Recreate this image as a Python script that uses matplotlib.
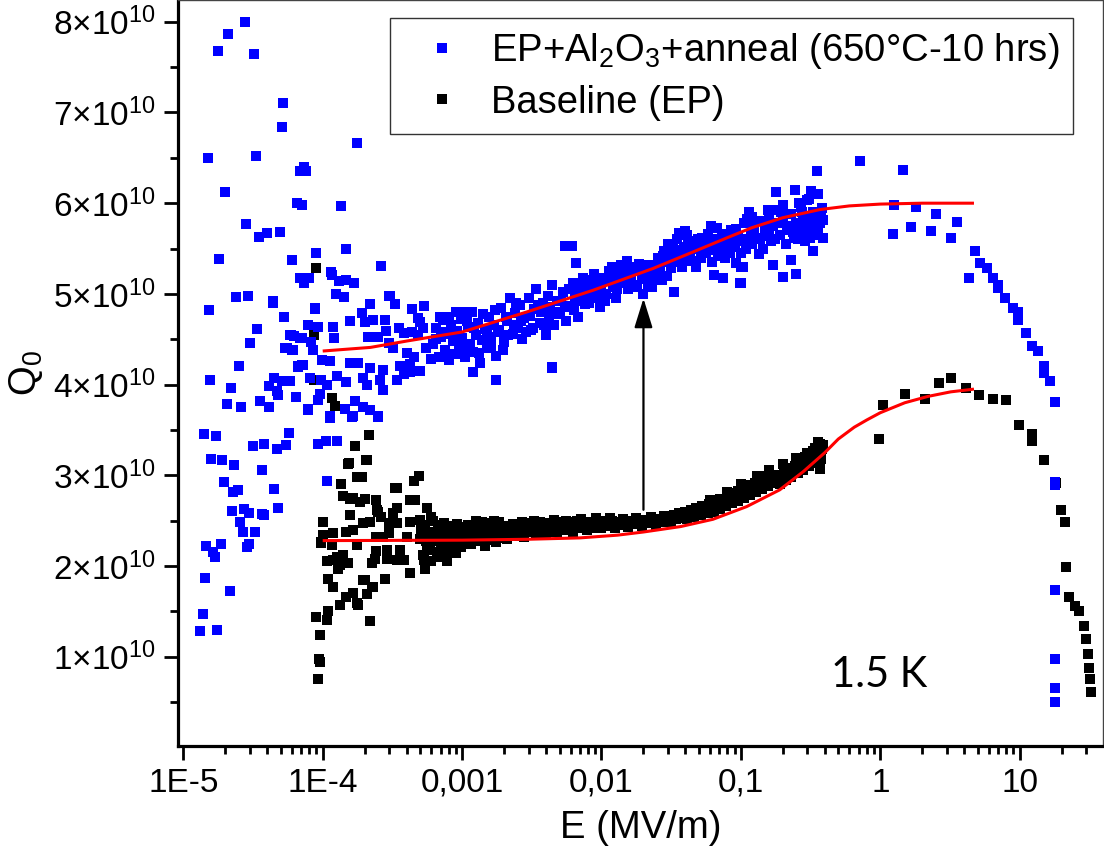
import matplotlib
matplotlib.use('Agg')
import matplotlib.pyplot as plt
from matplotlib.ticker import FixedLocator, FixedFormatter, LogLocator, NullFormatter

plt.rcParams['font.family'] = ['Liberation Sans', 'DejaVu Sans']
plt.rcParams['mathtext.fontset'] = 'custom'
plt.rcParams['mathtext.rm'] = 'Liberation Sans'
plt.rcParams['mathtext.it'] = 'Liberation Sans:italic'
plt.rcParams['mathtext.bf'] = 'Liberation Sans:bold'
plt.rcParams['mathtext.sf'] = 'Liberation Sans'

Q_UNIT = 1e10  # Q values below are in units of 1e10

# ---------------- blue series: EP+Al2O3+anneal ----------------
BLUE_LOW = [
    (1.77e-5, 7.68), (2.08e-5, 7.87), (2.77e-5, 8.00), (3.22e-5, 7.65), (5.16e-5, 7.10), (5.07e-5, 6.84),
    (1.50e-5, 6.50), (3.30e-5, 6.52), (1.75e-4, 6.66), (2.0e-5, 6.12), (7.4e-5, 6.40), (6.9e-5, 6.35),
    (7.6e-5, 6.35), (6.5e-5, 6.00), (7.1e-5, 5.98), (1.35e-4, 5.97), (2.8e-5, 5.77), (3.5e-5, 5.63),
    (4.0e-5, 5.67), (4.9e-5, 5.68), (1.79e-5, 5.39), (6.0e-5, 5.37), (8.9e-5, 5.45), (1.46e-4, 5.50),
    (2.6e-4, 5.31), (6.9e-5, 5.17), (7.4e-5, 5.12), (8.0e-5, 5.18), (1.15e-4, 5.24), (1.17e-4, 5.21),
    (1.30e-4, 5.14), (1.46e-4, 5.15), (1.67e-4, 5.12), (2.4e-5, 4.97), (2.9e-5, 4.98), (4.4e-5, 4.92),
    (1.24e-4, 5.00), (1.43e-4, 4.97), (3.05e-4, 4.98), (1.52e-5, 4.82), (4.4e-5, 4.90), (8.8e-5, 4.84),
    (5.3e-5, 4.75), (3.4e-5, 4.61), (3.0e-5, 4.46), (5.9e-5, 4.55), (6.9e-5, 4.51), (5.4e-5, 4.40),
    (6.1e-5, 4.38), (7.8e-5, 4.66), (9.2e-5, 4.63), (1.18e-4, 4.63), (1.20e-4, 4.51), (1.57e-4, 4.70),
    (2.5e-5, 4.20), (1.55e-5, 4.05), (2.2e-5, 3.96), (2.05e-5, 3.79), (2.6e-5, 3.75), (4.1e-5, 3.75),
    (3.55e-5, 3.82), (4.75e-5, 3.88), (6.4e-5, 3.86), (4.1e-5, 3.98), (4.7e-5, 3.93), (4.5e-5, 4.07),
    (5.1e-5, 4.04), (5.8e-5, 4.04), (7.1e-5, 4.22), (6.7e-5, 4.19), (1.41e-5, 3.45), (1.71e-5, 3.43),
    (1.57e-5, 3.18), (1.89e-5, 3.17), (2.3e-5, 3.11), (3.67e-5, 3.06), (3.15e-5, 3.32), (3.8e-5, 3.35),
    (4.7e-5, 3.29), (5.45e-5, 3.33), (5.7e-5, 3.47), (9.2e-5, 3.34), (1.06e-4, 3.38), (1.27e-4, 3.38),
    (1.96e-5, 2.93), (2.27e-5, 2.82), (2.45e-5, 2.84), (4.45e-5, 2.85), (1.07e-4, 2.94), (2.22e-5, 2.61),
    (2.73e-5, 2.63), (2.97e-5, 2.58), (3.65e-5, 2.57), (3.77e-5, 2.56), (4.8e-5, 2.64), (2.55e-5, 2.49),
    (2.7e-5, 2.37), (3.27e-5, 2.37), (1.45e-5, 2.22), (1.86e-5, 2.24), (1.63e-5, 2.15), (1.69e-5, 2.10),
    (2.85e-5, 2.21), (2.94e-5, 2.24), (1.42e-5, 1.87), (2.15e-5, 1.72), (1.38e-5, 1.47), (1.31e-5, 1.28),
    (1.74e-5, 1.29),
]
BLUE_START = [
    (3.0e-4, 4.98), (3.3e-4, 4.89), (2.18e-4, 4.89), (4.4e-4, 4.83), (5.3e-4, 4.87), (6.9e-4, 4.74),
    (9.0e-4, 4.80), (1.0e-3, 4.80), (8.8e-5, 4.83), (1.9e-4, 4.79), (2.0e-4, 4.69), (2.3e-4, 4.71),
    (2.8e-4, 4.71), (5.8e-5, 4.55), (7.1e-5, 4.51), (6.2e-5, 4.54), (8.3e-5, 4.47), (8.5e-5, 4.38),
    (5.5e-5, 4.40), (6.0e-5, 4.38), (2.1e-4, 4.52), (2.5e-4, 4.53), (2.85e-4, 4.59), (3.0e-4, 4.46),
    (3.8e-4, 4.57), (4.4e-4, 4.58), (5.0e-4, 4.69), (4.8e-4, 4.73), (8.0e-4, 4.75), (9.6e-4, 4.80),
    (9.9e-5, 4.27), (1.13e-4, 4.26), (1.57e-4, 4.24), (1.8e-4, 4.24), (2.18e-4, 4.18), (2.7e-4, 4.16),
    (3.6e-4, 4.21), (4.2e-4, 4.23), (5.0e-4, 4.15), (6.7e-5, 4.20), (7.2e-5, 4.22), (8.1e-5, 4.07),
    (9.8e-5, 4.05), (1.07e-4, 4.00), (1.26e-4, 4.09), (1.47e-4, 4.03), (1.94e-4, 4.07), (2.07e-4, 4.00),
    (2.58e-4, 4.05), (3.4e-4, 4.05), (3.8e-4, 4.12), (4.2e-4, 4.14), (9.2e-5, 3.83), (9.6e-5, 3.90),
    (1.71e-4, 3.82), (1.94e-4, 3.75), (2.7e-4, 3.94), (1.44e-4, 3.73), (1.64e-4, 3.65), (2.5e-4, 3.65),
    (1.13e-4, 3.65), (7.8e-5, 3.73), (2.18e-4, 3.72), (2.5e-4, 3.64), (1.63e-4, 3.64), (1.13e-4, 3.63),
    (7.9e-5, 3.72), (1.2e-3, 4.14), (1.75e-3, 4.05), (4.4e-3, 4.19), (5.5e-4, 4.40), (6.0e-4, 4.28),
    (4.8e-4, 4.55), (4.0e-4, 4.35), (3.5e-4, 4.62), (5.2e-4, 4.62), (4.5e-4, 4.30), (3.2e-4, 4.40),
    (6.5e-4, 4.50), (7.5e-4, 4.58),
]
BLUE_BAND = [
    (6.2e-4, 4.45), (6.5e-4, 4.62), (6.8e-4, 4.30), (7.0e-4, 4.52), (7.3e-4, 4.71), (7.5e-4, 4.38),
    (7.8e-4, 4.56), (8.0e-4, 4.27), (8.3e-4, 4.66), (8.6e-4, 4.48), (8.9e-4, 4.34), (9.2e-4, 4.59),
    (9.5e-4, 4.41), (9.8e-4, 4.72), (1.0e-3, 4.51), (1.05e-3, 4.30), (1.1e-3, 4.63), (1.13e-3, 4.45),
    (1.17e-3, 4.80), (1.2e-3, 4.36), (1.25e-3, 4.55), (1.3e-3, 4.68), (1.35e-3, 4.24), (1.4e-3, 4.49),
    (1.45e-3, 4.61), (1.5e-3, 4.40), (1.55e-3, 4.75), (1.6e-3, 4.53), (1.7e-3, 4.66), (1.75e-3, 4.32),
    (1.8e-3, 4.58), (1.9e-3, 4.84), (2.0e-3, 4.47), (2.1e-3, 4.70), (2.2e-3, 4.95), (2.3e-3, 4.56),
    (2.4e-3, 4.79), (2.5e-3, 4.62), (2.6e-3, 4.88), (2.7e-3, 4.50), (2.8e-3, 4.73), (3.0e-3, 4.96),
    (3.1e-3, 4.60), (3.3e-3, 4.83), (3.4e-3, 5.05), (3.6e-3, 4.68), (3.8e-3, 4.90), (4.0e-3, 4.55),
    (4.2e-3, 4.77), (4.4e-3, 5.10), (4.6e-3, 4.66), (4.8e-3, 4.92), (5.0e-3, 4.80), (5.3e-3, 5.02),
    (5.6e-3, 4.70), (5.9e-3, 4.87), (6.2e-3, 5.12), (6.5e-3, 4.95), (6.8e-3, 4.74), (7.2e-3, 5.06),
    (7.6e-3, 4.89), (8.0e-3, 5.15), (8.4e-3, 4.98), (8.8e-3, 5.22), (9.3e-3, 5.03), (9.8e-3, 4.86),
    (1.03e-2, 5.18), (1.08e-2, 5.00), (1.14e-2, 5.25), (1.2e-2, 5.08), (1.27e-2, 4.96), (1.33e-2, 5.21),
    (1.4e-2, 5.12), (1.48e-2, 5.28), (1.55e-2, 5.05), (1.63e-2, 5.20), (1.72e-2, 5.30), (1.8e-2, 5.10),
    (1.9e-2, 5.25), (2.0e-2, 5.00), (2.1e-2, 5.18), (2.2e-2, 5.32), (2.3e-2, 5.08), (2.45e-2, 5.27),
    (2.55e-2, 5.40), (2.7e-2, 5.15), (2.85e-2, 5.35), (3.0e-2, 5.55), (3.15e-2, 5.28), (3.3e-2, 5.45),
    (3.5e-2, 5.60), (3.7e-2, 5.38), (3.9e-2, 5.52), (4.1e-2, 5.65), (4.3e-2, 5.42), (4.5e-2, 5.58),
    (4.8e-2, 5.30), (5.0e-2, 5.50), (5.3e-2, 5.62), (5.6e-2, 5.45), (5.9e-2, 5.55), (6.2e-2, 5.35),
    (6.6e-2, 5.60), (7.0e-2, 5.48), (7.3e-2, 5.66), (7.7e-2, 5.40), (8.1e-2, 5.58), (8.5e-2, 5.70),
    (9.0e-2, 5.52), (9.5e-2, 5.64), (0.10, 5.45), (0.105, 5.78), (0.11, 5.60), (0.115, 5.90),
    (0.12, 5.55), (0.125, 5.72), (0.13, 5.62), (0.14, 5.80), (0.145, 5.50), (0.15, 5.68),
    (0.16, 5.85), (0.165, 5.58), (0.17, 5.75), (0.18, 5.92), (0.19, 5.65), (0.20, 5.82),
    (0.21, 5.55), (0.22, 5.70), (0.23, 5.88), (0.24, 5.62), (0.25, 5.78), (0.26, 6.00),
    (0.27, 5.68), (0.28, 5.85), (0.29, 5.58), (0.30, 5.80), (0.31, 6.05), (0.32, 5.72),
    (0.33, 5.90), (0.34, 5.65), (0.35, 5.85), (0.36, 6.10), (0.37, 5.78), (0.38, 5.95), (0.39, 5.82),
]
BLUE_BAND_2 = [
    (1.02e-3, 4.40), (1.08e-3, 4.70), (1.22e-3, 4.62), (1.32e-3, 4.35), (1.42e-3, 4.78), (1.52e-3, 4.55),
    (1.62e-3, 4.42), (1.72e-3, 4.82), (1.85e-3, 4.60), (1.95e-3, 4.38), (2.05e-3, 4.75), (2.15e-3, 4.55),
    (2.35e-3, 4.66), (2.45e-3, 4.90), (2.65e-3, 4.70), (2.85e-3, 4.58), (3.05e-3, 4.76), (3.25e-3, 4.62),
    (3.5e-3, 4.88), (3.7e-3, 4.80), (3.9e-3, 4.66), (4.1e-3, 4.98), (4.3e-3, 4.85), (4.7e-3, 4.78),
    (5.1e-3, 4.92), (5.5e-3, 4.86), (5.8e-3, 5.05), (6.3e-3, 4.82), (6.7e-3, 5.02), (7.0e-3, 4.92),
    (7.4e-3, 5.18), (7.8e-3, 5.00), (8.2e-3, 4.90), (8.6e-3, 5.10), (9.0e-3, 4.95), (9.5e-3, 5.12),
    (1.0e-2, 5.06), (1.06e-2, 4.92), (1.12e-2, 5.15), (1.18e-2, 5.30), (1.25e-2, 5.14), (1.3e-2, 5.05),
    (1.37e-2, 5.32), (1.45e-2, 5.18), (1.52e-2, 5.36), (1.6e-2, 5.14), (1.68e-2, 5.25), (1.76e-2, 5.08),
    (1.85e-2, 5.33), (1.95e-2, 5.16), (2.05e-2, 5.28), (2.15e-2, 5.10), (2.25e-2, 5.22), (2.4e-2, 5.16),
    (2.5e-2, 5.30), (2.65e-2, 5.24), (2.75e-2, 5.42), (2.95e-2, 5.20), (3.1e-2, 5.40), (3.25e-2, 5.52),
    (3.4e-2, 5.35), (3.6e-2, 5.48), (3.8e-2, 5.30), (4.0e-2, 5.45), (4.2e-2, 5.55), (4.4e-2, 5.36),
    (4.7e-2, 5.50), (4.9e-2, 5.60), (5.2e-2, 5.40), (5.5e-2, 5.56), (5.8e-2, 5.66), (6.1e-2, 5.48),
    (6.4e-2, 5.52), (6.8e-2, 5.42), (7.2e-2, 5.55), (7.6e-2, 5.62), (8.0e-2, 5.50), (8.3e-2, 5.45),
    (8.8e-2, 5.60), (9.3e-2, 5.72), (9.8e-2, 5.58), (0.108, 5.50), (0.118, 5.66), (0.128, 5.80),
    (0.138, 5.60), (0.148, 5.74), (0.158, 5.64), (0.175, 5.60), (0.185, 5.78), (0.195, 5.90),
    (0.215, 5.75), (0.235, 5.68), (0.255, 5.60), (0.275, 5.90), (0.295, 5.75), (0.315, 5.62),
    (0.335, 5.80), (0.355, 5.70), (0.375, 5.88), (0.385, 5.62),
]
BLUE_OUTLIERS = [
    (5.5e-3, 5.53), (6.1e-3, 5.53), (6.6e-3, 5.34), (4.4e-3, 4.18), (0.061, 5.75), (0.067, 5.73),
    (0.098, 5.12), (0.064, 5.21), (0.075, 5.17), (0.11, 5.83), (0.12, 5.85), (0.135, 5.44),
    (0.093, 5.34), (0.104, 5.30), (0.036, 5.67), (0.040, 5.69), (0.033, 5.02), (0.028, 5.47),
    (0.35, 6.35), (0.245, 6.15), (0.178, 6.12), (0.32, 6.13), (0.30, 6.04), (0.20, 5.98),
    (0.157, 5.93), (0.27, 5.96), (0.33, 5.47), (0.227, 5.37), (0.17, 5.32), (0.20, 5.19),
    (0.25, 5.22), (0.10, 5.12), (0.10, 5.30),
]
BLUE_HIGH = [
    (0.72, 6.46), (1.45, 6.37), (1.25, 5.98), (1.79, 5.96), (2.49, 5.88), (3.53, 5.79), (1.23, 5.66),
    (1.65, 5.74), (2.30, 5.69), (3.20, 5.62), (4.75, 5.47), (4.36, 5.18), (5.2, 5.34), (5.8, 5.29),
    (6.4, 5.18), (7.0, 5.10), (7.0, 5.07), (7.9, 4.96), (8.9, 4.84), (9.8, 4.80), (9.8, 4.71),
    (11.1, 4.57), (12.3, 4.42), (13.5, 4.37), (14.9, 4.20), (14.9, 4.13), (16.4, 4.04), (17.8, 3.81),
    (17.8, 2.93), (17.8, 2.89), (17.8, 1.74), (17.8, 0.98), (17.8, 0.65), (17.8, 0.50),
]

# ---------------- black series: Baseline (EP) ----------------
BLACK_LOW = [
    (8.9e-5, 5.29), (8.6e-5, 4.55), (8.6e-5, 4.05), (9.2e-5, 0.754), (9.5e-5, 0.94), (9.6e-5, 1.24),
    (9.0e-5, 1.44), (1.07e-4, 1.40), (1.10e-4, 1.50), (2.2e-4, 1.39), (1.33e-4, 1.57), (1.48e-4, 1.66),
    (1.75e-4, 1.59), (1.66e-4, 1.70), (1.8e-4, 1.57), (1.10e-4, 1.86), (1.19e-4, 1.77), (1.95e-4, 1.85),
    (2.27e-4, 1.77), (2.07e-4, 1.69), (2.8e-4, 1.86), (9.8e-5, 2.25), (1.16e-4, 2.23), (1.01e-4, 2.34),
    (1.19e-4, 2.07), (1.33e-4, 2.01), (1.48e-4, 2.03), (1.26e-4, 2.10), (1.40e-4, 2.12), (2.24e-4, 2.03),
    (2.37e-4, 2.08), (1.0e-4, 2.48), (1.19e-4, 2.36), (1.48e-4, 2.38), (1.66e-4, 2.40), (1.95e-4, 2.47),
    (2.17e-4, 2.49), (1.35e-4, 2.90), (1.57e-4, 2.56), (1.75e-4, 2.98), (1.87e-4, 2.98), (2.07e-4, 3.17),
    (2.4e-4, 2.73), (2.47e-4, 2.62), (1.53e-4, 3.13), (1.85e-4, 2.71), (1.66e-4, 2.75), (3.3e-4, 2.86),
    (2.6e-4, 2.54), (2.7e-4, 2.32), (2.87e-4, 2.18), (3.4e-4, 2.47), (3.4e-4, 2.07), (2.14e-4, 3.44),
    (1.70e-4, 3.32), (1.54e-4, 3.14), (2.06e-4, 3.17), (1.16e-4, 3.85), (1.22e-4, 3.76), (1.8e-4, 2.98),
    (1.9e-4, 2.98), (4.9e-4, 2.99), (4.5e-4, 2.94), (3.4e-4, 2.86), (1.4e-4, 2.77), (1.57e-4, 2.74),
    (2.0e-4, 2.74), (2.4e-4, 2.73), (4.2e-4, 2.73), (4.6e-4, 2.73), (5.6e-4, 2.64), (2.5e-4, 2.60),
    (3.2e-4, 2.58), (3.4e-4, 2.64), (6.0e-4, 2.54), (3.0e-4, 2.47), (4.2e-4, 2.49), (5.0e-4, 2.51),
    (9.8e-5, 2.26), (1.75e-4, 2.23), (2.4e-4, 2.32), (3.0e-4, 2.36), (4.0e-4, 2.32), (5.8e-4, 2.36),
    (1.07e-4, 2.05), (1.53e-4, 2.03), (2.87e-4, 2.08), (3.8e-4, 2.07), (5.3e-4, 2.07), (7.8e-4, 2.05),
    (2.4e-4, 2.16), (3.6e-4, 2.18), (6.6e-4, 2.10), (8.7e-4, 2.16), (1.29e-4, 1.97), (4.2e-4, 1.92),
    (5.4e-4, 1.97), (2.0e-4, 1.85), (2.3e-4, 1.77), (9.4e-5, 0.98),
]
BLACK_BAND = [
    (5.0e-4, 2.30), (5.2e-4, 2.12), (5.4e-4, 2.45), (5.6e-4, 2.22), (5.8e-4, 2.38), (6.0e-4, 2.05),
    (6.2e-4, 2.50), (6.4e-4, 2.28), (6.6e-4, 2.15), (6.8e-4, 2.42), (7.0e-4, 2.33), (7.2e-4, 2.20),
    (7.4e-4, 2.47), (7.6e-4, 2.10), (7.8e-4, 2.36), (8.0e-4, 2.27), (8.2e-4, 2.44), (8.4e-4, 2.18),
    (8.6e-4, 2.39), (8.8e-4, 2.30), (9.0e-4, 2.14), (9.2e-4, 2.46), (9.4e-4, 2.25), (9.6e-4, 2.37),
    (9.8e-4, 2.21), (1.0e-3, 2.41), (1.05e-3, 2.30), (1.1e-3, 2.45), (1.15e-3, 2.24), (1.2e-3, 2.38),
    (1.25e-3, 2.50), (1.3e-3, 2.28), (1.35e-3, 2.42), (1.4e-3, 2.33), (1.45e-3, 2.22), (1.5e-3, 2.47),
    (1.55e-3, 2.36), (1.6e-3, 2.29), (1.65e-3, 2.43), (1.7e-3, 2.34), (1.75e-3, 2.26), (1.8e-3, 2.40),
    (1.85e-3, 2.48), (1.9e-3, 2.31), (1.95e-3, 2.37), (2.0e-3, 2.44), (2.1e-3, 2.30), (2.2e-3, 2.39),
    (2.3e-3, 2.46), (2.4e-3, 2.33), (2.5e-3, 2.41), (2.6e-3, 2.36), (2.7e-3, 2.48), (2.8e-3, 2.32),
    (2.9e-3, 2.43), (3.0e-3, 2.38), (3.2e-3, 2.45), (3.4e-3, 2.35), (3.6e-3, 2.49), (3.8e-3, 2.40),
    (4.0e-3, 2.36), (4.2e-3, 2.46), (4.4e-3, 2.42), (4.6e-3, 2.51), (4.8e-3, 2.38), (5.0e-3, 2.45),
    (5.3e-3, 2.40), (5.6e-3, 2.50), (5.9e-3, 2.43), (6.2e-3, 2.37), (6.5e-3, 2.47), (6.8e-3, 2.42),
    (7.1e-3, 2.52), (7.5e-3, 2.45), (7.9e-3, 2.40), (8.3e-3, 2.49), (8.7e-3, 2.44), (9.1e-3, 2.53),
    (9.5e-3, 2.46), (1.0e-2, 2.42), (1.05e-2, 2.50), (1.1e-2, 2.44), (1.15e-2, 2.53), (1.2e-2, 2.47),
    (1.25e-2, 2.42), (1.3e-2, 2.49), (1.36e-2, 2.45), (1.42e-2, 2.52), (1.48e-2, 2.47), (1.55e-2, 2.43),
    (1.62e-2, 2.50), (1.7e-2, 2.46), (1.78e-2, 2.53), (1.86e-2, 2.48), (1.95e-2, 2.44), (2.05e-2, 2.51),
    (2.15e-2, 2.47), (2.25e-2, 2.54), (2.35e-2, 2.49), (2.45e-2, 2.45), (2.55e-2, 2.52), (2.7e-2, 2.49),
    (2.8e-2, 2.55), (2.9e-2, 2.50), (3.0e-2, 2.53), (3.15e-2, 2.49), (3.3e-2, 2.56), (3.45e-2, 2.52),
    (3.6e-2, 2.58), (3.8e-2, 2.53), (4.0e-2, 2.60), (4.2e-2, 2.55), (4.4e-2, 2.62), (4.6e-2, 2.57),
    (4.8e-2, 2.64), (5.0e-2, 2.59), (5.3e-2, 2.66), (5.6e-2, 2.61), (5.9e-2, 2.68), (6.2e-2, 2.63),
    (6.5e-2, 2.71), (6.8e-2, 2.66), (7.1e-2, 2.74), (7.5e-2, 2.69), (7.9e-2, 2.77), (8.3e-2, 2.72),
    (8.7e-2, 2.80), (9.1e-2, 2.75), (9.5e-2, 2.83), (0.100, 2.78), (0.105, 2.86), (0.110, 2.81),
    (0.115, 2.89), (0.120, 2.84), (0.127, 2.92), (0.133, 2.87), (0.140, 2.96), (0.147, 2.90),
    (0.155, 2.99), (0.163, 2.94), (0.170, 3.00), (0.180, 2.93), (0.190, 3.00), (0.200, 2.96),
    (0.210, 3.04), (0.220, 3.00), (0.230, 3.08), (0.240, 3.04), (0.250, 3.12), (0.260, 3.08),
    (0.270, 3.16), (0.280, 3.12), (0.290, 3.20), (0.300, 3.15), (0.310, 3.23), (0.320, 3.18),
    (0.330, 3.27), (0.340, 3.22), (0.350, 3.30), (0.360, 3.26), (0.370, 3.34), (0.380, 3.29),
    (0.360, 3.37), (0.370, 3.07),
]
BLACK_BAND_2 = [
    (5.1e-4, 2.40), (5.5e-4, 2.28), (5.9e-4, 2.18), (6.3e-4, 2.35), (6.7e-4, 2.45), (7.1e-4, 2.25),
    (7.5e-4, 2.38), (7.9e-4, 2.44), (8.3e-4, 2.31), (8.7e-4, 2.24), (9.1e-4, 2.36), (9.5e-4, 2.43),
    (9.9e-4, 2.30), (1.07e-3, 2.37), (1.12e-3, 2.27), (1.18e-3, 2.44), (1.28e-3, 2.35), (1.38e-3, 2.48),
    (1.48e-3, 2.30), (1.58e-3, 2.40), (1.68e-3, 2.50), (1.78e-3, 2.35), (1.88e-3, 2.42), (2.05e-3, 2.36),
    (2.25e-3, 2.43), (2.45e-3, 2.38), (2.65e-3, 2.42), (2.85e-3, 2.47), (3.1e-3, 2.40), (3.3e-3, 2.50),
    (3.5e-3, 2.42), (3.7e-3, 2.37), (3.9e-3, 2.47), (4.1e-3, 2.43), (4.3e-3, 2.38), (4.5e-3, 2.47),
    (4.7e-3, 2.44), (4.9e-3, 2.49), (5.15e-3, 2.43), (5.45e-3, 2.46), (5.75e-3, 2.41), (6.05e-3, 2.48),
    (6.35e-3, 2.44), (6.65e-3, 2.50), (6.95e-3, 2.45), (7.3e-3, 2.42), (7.7e-3, 2.48), (8.1e-3, 2.46),
    (8.5e-3, 2.42), (8.9e-3, 2.47), (9.3e-3, 2.49), (9.7e-3, 2.44), (1.02e-2, 2.48), (1.08e-2, 2.46),
    (1.18e-2, 2.50), (1.28e-2, 2.46), (1.39e-2, 2.49), (1.51e-2, 2.50), (1.66e-2, 2.48), (1.82e-2, 2.50),
    (2.0e-2, 2.48), (2.2e-2, 2.50), (2.4e-2, 2.51), (2.62e-2, 2.50), (2.85e-2, 2.52), (3.08e-2, 2.55),
    (3.38e-2, 2.54), (3.7e-2, 2.56), (3.9e-2, 2.58), (4.3e-2, 2.59), (4.7e-2, 2.61), (5.15e-2, 2.62),
    (5.75e-2, 2.64), (6.35e-2, 2.67), (6.95e-2, 2.70), (7.7e-2, 2.73), (8.5e-2, 2.76), (9.3e-2, 2.79),
    (0.102, 2.82), (0.112, 2.85), (0.124, 2.88), (0.137, 2.92), (0.151, 2.95), (0.167, 2.98),
    (0.185, 2.99), (0.205, 3.03), (0.225, 3.06), (0.245, 3.10), (0.265, 3.13), (0.285, 3.17),
    (0.305, 3.20), (0.325, 3.24), (0.345, 3.27), (0.365, 3.30), (0.385, 3.33),
]
BLACK_BAND_3 = [
    (0.041, 2.52), (0.046, 2.54), (0.052, 2.56), (0.058, 2.58), (0.064, 2.60), (0.071, 2.63),
    (0.078, 2.66), (0.086, 2.69), (0.095, 2.72), (0.105, 2.75), (0.116, 2.78), (0.128, 2.82),
    (0.141, 2.85), (0.156, 2.88), (0.172, 2.91), (0.190, 2.90), (0.210, 2.95), (0.230, 2.98),
    (0.255, 3.02), (0.280, 3.06), (0.310, 3.10), (0.340, 3.14), (0.375, 3.18),
    (0.060, 2.73), (0.080, 2.82), (0.100, 2.90), (0.130, 2.99), (0.160, 3.06), (0.200, 3.12),
    (0.250, 3.19), (0.300, 3.25), (0.340, 3.30), (0.380, 3.33),
]
BLACK_HIGH = [
    (0.974, 3.40), (1.04, 3.77), (1.50, 3.90), (2.08, 3.84), (2.63, 4.02), (3.20, 4.07), (4.10, 3.96),
    (5.08, 3.88), (6.40, 3.84), (7.94, 3.83), (9.85, 3.56), (12.2, 3.46), (12.2, 3.38), (14.9, 3.17),
    (18.1, 2.91), (19.7, 2.62), (21.0, 2.48), (21.4, 1.99), (22.5, 1.66), (24.8, 1.56), (26.5, 1.50),
    (28.8, 1.34), (29.8, 1.20), (30.8, 1.03), (31.3, 0.88), (31.8, 0.75), (32.3, 0.61),
]

# ---------------- fit curves (red) ----------------
FIT_BLUE_E = [1e-4, 2.2e-4, 4e-4, 1e-3, 2.9e-3, 8.7e-3, 0.0234, 0.045, 0.08, 0.12, 0.2, 0.37, 0.6, 1.0, 2.0, 4.7]
FIT_BLUE_Q = [4.37, 4.41, 4.48, 4.58, 4.80, 5.04, 5.28, 5.46, 5.62, 5.73, 5.84, 5.93, 5.97, 5.99, 6.00, 6.00]
FIT_BLACK_E = [1e-4, 1e-3, 3e-3, 7e-3, 0.013, 0.02, 0.037, 0.063, 0.11, 0.19, 0.28, 0.40, 0.5, 0.65, 0.8,
               1.0, 1.5, 2.2, 3.2, 4.7]
FIT_BLACK_Q = [2.28, 2.285, 2.295, 2.31, 2.34, 2.375, 2.435, 2.515, 2.655, 2.84, 3.04, 3.25, 3.40, 3.53, 3.61,
               3.69, 3.80, 3.87, 3.92, 3.95]

# arrow (E, Q from -> to)
ARROW_E = 0.02
ARROW_Q_FROM = 2.62
ARROW_Q_TO = 4.95

X_TICKS = [1e-5, 1e-4, 1e-3, 1e-2, 1e-1, 1, 10]
X_TICK_LABELS = ['1E-5', '1E-4', '0,001', '0,01', '0,1', '1', '10']
Y_TICKS = [1, 2, 3, 4, 5, 6, 7, 8]
Y_TICK_LABELS = ['1×10$^{10}$', '2×10$^{10}$', '3×10$^{10}$', '4×10$^{10}$',
                 '5×10$^{10}$', '6×10$^{10}$', '7×10$^{10}$', '8×10$^{10}$']

LEGEND_LABELS = ['EP+Al$_2$O$_3$+anneal (650°C-10 hrs)', 'Baseline (EP)']

BLUE = '#0000FF'
BLACK = '#000000'
RED = '#FF0000'

W, H = 1104, 864
fig = plt.figure(figsize=(W / 100, H / 100), dpi=100)
ax = fig.add_axes([178 / W, 1 - 745.7 / H, 925 / W, 745.7 / H])
ax.set_xscale('log')


def split(pairs):
    return [p[0] for p in pairs], [p[1] * Q_UNIT for p in pairs]


MS = 6.8
black_groups = [BLACK_LOW, BLACK_BAND, BLACK_BAND_2, BLACK_BAND_3, BLACK_HIGH]
blue_groups = [BLUE_LOW, BLUE_START, BLUE_BAND, BLUE_BAND_2, BLUE_OUTLIERS, BLUE_HIGH]
h_black = None
for g in black_groups:
    e, q = split(g)
    h_black, = ax.plot(e, q, ls='none', marker='s', ms=MS, mfc=BLACK, mec=BLACK, mew=0, zorder=2)
h_blue = None
for g in blue_groups:
    e, q = split(g)
    h_blue, = ax.plot(e, q, ls='none', marker='s', ms=MS, mfc=BLUE, mec=BLUE, mew=0, zorder=3)

ax.plot(FIT_BLUE_E, [v * Q_UNIT for v in FIT_BLUE_Q], color=RED, lw=2.2, zorder=4, solid_capstyle='butt')
ax.plot(FIT_BLACK_E, [v * Q_UNIT for v in FIT_BLACK_Q], color=RED, lw=2.2, zorder=4, solid_capstyle='butt')

ax.annotate('', xy=(ARROW_E, ARROW_Q_TO * Q_UNIT), xytext=(ARROW_E, ARROW_Q_FROM * Q_UNIT),
            arrowprops=dict(arrowstyle='-|>,head_length=0.9,head_width=0.28', color='black',
                            lw=1.6, shrinkA=0, shrinkB=0, mutation_scale=20), zorder=5)

ax.set_xlim(9.16e-6, 39.6)
ax.set_ylim(0.019 * Q_UNIT, 8.24 * Q_UNIT)

ax.xaxis.set_major_locator(FixedLocator(X_TICKS))
ax.xaxis.set_major_formatter(FixedFormatter(X_TICK_LABELS))
ax.xaxis.set_minor_locator(LogLocator(base=10, subs=(2, 3, 4, 5, 6, 7, 8, 9), numticks=20))
ax.xaxis.set_minor_formatter(NullFormatter())
ax.yaxis.set_major_locator(FixedLocator([v * Q_UNIT for v in Y_TICKS]))
ax.yaxis.set_major_formatter(FixedFormatter(Y_TICK_LABELS))
ax.yaxis.set_minor_locator(FixedLocator([(v - 0.5) * Q_UNIT for v in Y_TICKS]))

ax.tick_params(which='major', direction='out', length=10, width=2.0, labelsize=24, pad=6,
               top=False, right=False)
ax.tick_params(which='minor', direction='out', length=5.5, width=2.0, top=False, right=False)

for side in ['left', 'bottom']:
    ax.spines[side].set_linewidth(2.3)
for side in ['top', 'right']:
    ax.spines[side].set_linewidth(1.0)
    ax.spines[side].set_color('#444444')

ax.set_xlabel('E (MV/m)', fontsize=27.5, labelpad=8)
ax.set_ylabel('Q$_0$', fontsize=27.5, labelpad=6)

leg = ax.legend([h_blue, h_black], LEGEND_LABELS, loc='upper left',
                bbox_to_anchor=(390 / W, 1 - 18 / H), bbox_transform=fig.transFigure,
                fontsize=27.5, frameon=True, fancybox=False, borderaxespad=0,
                borderpad=0.35, labelspacing=0.35, handlelength=2.0, handletextpad=0.3,
                numpoints=1)
leg.get_frame().set_edgecolor('#333333')
leg.get_frame().set_linewidth(1.0)
leg.get_frame().set_alpha(1)

ax.text((879.6 - 178) / 925, (745.7 - 675) / 745.7, '1.5 K', transform=ax.transAxes,
        ha='center', va='center', fontsize=30, family=['Lato', 'DejaVu Sans'])

fig.savefig('out.png', dpi=100)
